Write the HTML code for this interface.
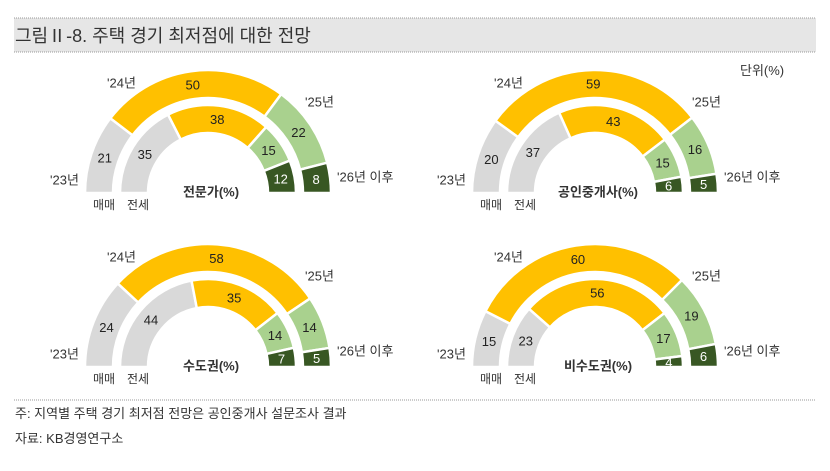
<!DOCTYPE html>
<html><head><meta charset="utf-8">
<style>
body{margin:0;background:#fff;width:830px;height:466px;overflow:hidden;font-family:"Liberation Sans","Noto Sans CJK KR",sans-serif;}
</style></head>
<body>
<svg id="chart" width="830" height="466" xmlns="http://www.w3.org/2000/svg" font-family="Liberation Sans, Noto Sans CJK KR, sans-serif">
<rect x="14" y="18" width="802" height="34" fill="#e6e6e6"/>
<line x1="14" y1="18" x2="816" y2="18" stroke="#999" stroke-dasharray="1,1"/>
<line x1="14" y1="52" x2="816" y2="52" stroke="#999" stroke-dasharray="1,1"/>
<text x="15" y="42" font-size="18" fill="#333">그림Ⅱ-8. 주택 경기 최저점에 대한 전망</text>
<text x="740" y="75" font-size="13" fill="#333">단위(%)</text>
<line x1="14" y1="400" x2="816" y2="400" stroke="#999" stroke-dasharray="1,1"/>
<text x="15" y="418" font-size="13" fill="#333">주: 지역별 주택 경기 최저점 전망은 공인중개사 설문조사 결과</text>
<text x="15" y="443" font-size="13" fill="#333">자료: KB경영연구소</text>
<g id="plots"></g>
</svg>
<script>
const panelTitles = ["전문가(%)", "공인중개사(%)", "수도권(%)", "비수도권(%)"];
const periods = ["'23년", "'24년", "'25년", "'26년 이후"];
const saleValues = [[21,50,22,8],[20,59,16,5],[24,58,14,5],[15,60,19,6]];
const rentValues = [[35,38,15,12],[37,43,15,6],[44,35,14,7],[23,56,17,4]];
const colors = ["#d9d9d9","#ffc000","#a9d18e","#385723"];
const centers = [[208,193],[595,193],[208,367],[595,367]];
const NS="http://www.w3.org/2000/svg";
const root=document.getElementById('plots');
function pt(cx,cy,r,a){return [cx+r*Math.cos(a), cy-r*Math.sin(a)];}
function arc(cx,cy,r0,r1,a0,a1){
  const p1=pt(cx,cy,r1,a0),p2=pt(cx,cy,r1,a1),p3=pt(cx,cy,r0,a1),p4=pt(cx,cy,r0,a0);
  return `M${p1}A${r1},${r1} 0 0 1 ${p2}L${p3}A${r0},${r0} 0 0 0 ${p4}Z`;
}
function txt(g,x,y,s,opts){
  const t=document.createElementNS(NS,'text');
  t.setAttribute('x',x);t.setAttribute('y',y);
  t.setAttribute('font-size',opts.size||13);
  t.setAttribute('fill',opts.fill||'#333');
  t.setAttribute('dominant-baseline','central');
  if(opts.anchor)t.setAttribute('text-anchor',opts.anchor);
  if(opts.bold)t.setAttribute('font-weight','bold');
  t.textContent=s;
  
  
  g.appendChild(t);return t;
}
function ring(g,cx,cy,r0,r1,vals,name){
  const tot=vals.reduce((a,b)=>a+b,0);
  let acc=0;
  vals.forEach((v,i)=>{
    const a0=Math.PI*(1-acc/tot), a1=Math.PI*(1-(acc+v)/tot);
    acc+=v;
    const p=document.createElementNS(NS,'path');
    p.setAttribute('d',arc(cx,cy,r0,r1,a0,a1));
    p.setAttribute('fill',colors[i]);
    p.setAttribute('stroke','#fff');
    p.setAttribute('stroke-width','2.5');
    
    
    g.appendChild(p);
    const am=(a0+a1)/2, m=pt(cx,cy,(r0+r1)/2,am);
    txt(g,m[0],m[1],String(v),{anchor:'middle',fill:i==3?'#fff':'#222',name:name+'-value-'+i});
  });
}
panelTitles.forEach((title,k)=>{
  const [cx,cy]=centers[k];
  const g=document.createElementNS(NS,'g');
  
  
  root.appendChild(g);
  ring(g,cx,cy,95,123,saleValues[k],'sale-ring');
  ring(g,cx,cy,60,88,rentValues[k],'rent-ring');
  txt(g,cx+3,cy-1,title,{anchor:'middle',bold:true,name:'panel-title'});
  txt(g,cx-158,cy-13,periods[0],{name:'period-label-23'});
  txt(g,cx-101,cy-110,periods[1],{name:'period-label-24'});
  txt(g,cx+97,cy-91,periods[2],{name:'period-label-25'});
  txt(g,cx+129,cy-16,periods[3],{name:'period-label-26'});
  txt(g,cx-115,cy+12,"매매",{size:12,name:'sale-ring-label'});
  txt(g,cx-81,cy+12,"전세",{size:12,name:'rent-ring-label'});
});
</script>
</body></html>
